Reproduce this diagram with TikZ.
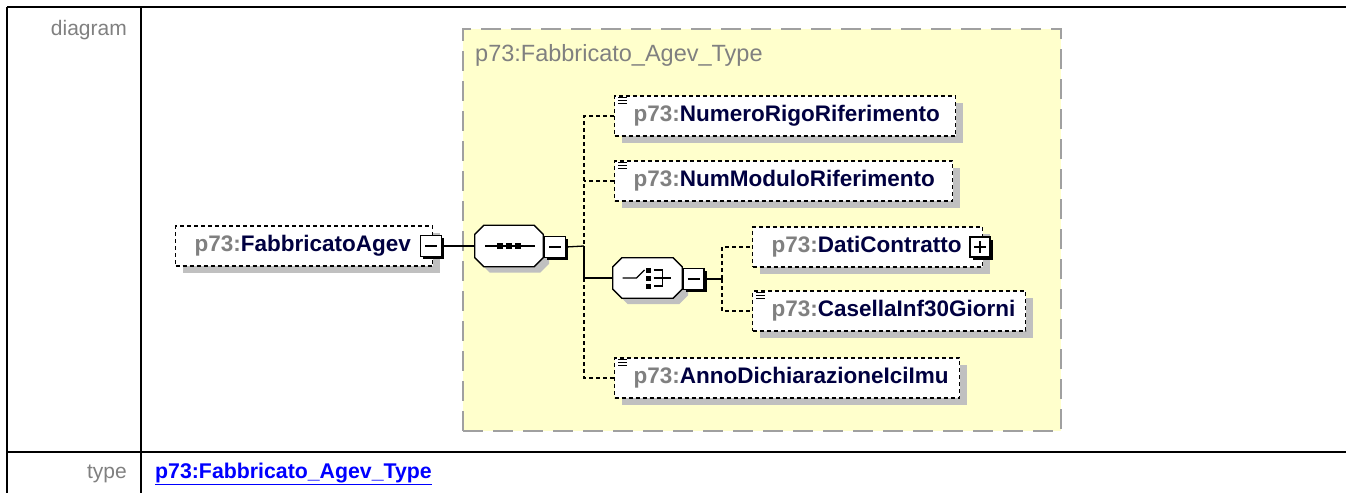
\documentclass[tikz,border=0pt]{standalone}
\usepackage{fontspec}
\setmainfont{Liberation Sans}
\usetikzlibrary{shadows}
\definecolor{ybox}{RGB}{255,255,204}
\definecolor{yborder}{RGB}{160,160,160}
\definecolor{lbl}{RGB}{128,128,128}
\definecolor{pfx}{RGB}{128,128,128}
\definecolor{ename}{RGB}{0,0,64}
\definecolor{shd}{RGB}{192,192,192}
\definecolor{linkc}{RGB}{0,0,255}
\newcommand\fsz[1]{\fontsize{#1}{#1}\selectfont}
\newcommand\qn[1]{{\color{pfx}p73:}{\color{ename}#1}}
\tikzset{
  elem/.style={draw=black, dash pattern=on 4pt off 3pt, line width=1.3pt, fill=white,
    minimum height=40pt, inner xsep=19pt, inner ysep=0pt, align=left, anchor=west,
    font=\fsz{22.5}\bfseries,
    drop shadow={shadow xshift=7pt, shadow yshift=-7pt, fill=shd, opacity=1}},
  comp/.style={rectangle, draw=none, inner sep=0pt},
  pmbox/.style={draw=black, line width=1.3pt, fill=white, minimum size=21pt, inner sep=0pt,
    drop shadow={shadow xshift=2.5pt, shadow yshift=-2.5pt, fill=black, opacity=1}},
  minusbox/.style={pmbox, path picture={\draw[line width=1.2pt]
    ([xshift=-6pt]path picture bounding box.center) -- ([xshift=6pt]path picture bounding box.center);}},
  plusbox/.style={pmbox, path picture={\draw[line width=1.2pt]
    ([xshift=-6pt]path picture bounding box.center) -- ([xshift=6pt]path picture bounding box.center)
    ([yshift=-6pt]path picture bounding box.center) -- ([yshift=6pt]path picture bounding box.center);}},
  conn/.style={draw=black, line width=1.3pt},
  opt/.style={draw=black, line width=1.3pt, dash pattern=on 4pt off 3pt},
  tbl/.style={draw=black, line width=2.5pt},
  lab/.style={inner sep=0pt, font=\fsz{21}, text=lbl},
}
\newcommand\octpath[1]{([shift={(9,0)}]#1.north west) -- ([shift={(-9,0)}]#1.north east) -- ([shift={(0,9)}]#1.north east) -- ([shift={(0,-9)}]#1.south east) -- ([shift={(-9,0)}]#1.south east) -- ([shift={(9,0)}]#1.south west) -- ([shift={(0,-9)}]#1.south west) -- ([shift={(0,9)}]#1.north west) -- cycle}
\newcommand\octagon[1]{%
  \fill[shd, transform canvas={shift={(6pt,-6pt)}}] \octpath{#1};
  \filldraw[fill=white, draw=black, line width=1.3pt] \octpath{#1};}
\newcommand\docicon[1]{\foreach \k in {2.5,5.5,8.5}{\draw[line width=1.1pt] ([shift={(4,\k)}]#1.north west) -- ++(9,0);}}
\begin{document}
\begin{tikzpicture}[x=1pt,y=-1pt]
\useasboundingbox (0,0) rectangle (1346,493);
% table
\draw[tbl] (7,7) -- (1346,7);
\draw[tbl] (7,452) -- (1346,452);
\draw[tbl] (7,7) -- (7,493);
\draw[tbl] (141,7) -- (141,493);
\node[lab, anchor=east] (ldiag) at (127,30) {diagram};
\node[lab, anchor=east] (ltype) at (127,474) {type};
\node[inner sep=0pt, anchor=west, font=\fsz{21.3}\bfseries, text=linkc] (llink) at (155,474) {\underline{p73:Fabbricato\_Agev\_Type}};
% complex type box
\node[draw=yborder, dash pattern=on 20pt off 10pt, line width=2pt, fill=ybox,
  minimum width=598pt, minimum height=402pt, anchor=north west, inner sep=0pt] (ctype) at (462,28) {};
\node[lab, anchor=west, font=\fsz{23.5}] (ctitle) at (475,55) {p73:Fabbricato\_Agev\_Type};
% elements
\node[elem, text width=219pt] (fab) at (175,246) {\qn{FabbricatoAgev}};
\node[minusbox] (fabm) at (431,246) {};
\node[comp, minimum width=68pt, minimum height=41pt] (seq) at (509,246) {};
\octagon{seq}
\node[minusbox] (seqm) at (555,247) {};
\begin{scope}[shift={(seq.center)}]
  \draw[line width=1.3pt] (-24,0) -- (26,0);
  \foreach \d in {-9,0,9}{\fill (\d-3,-3) rectangle (\d+3,3);}
\end{scope}
\node[elem, text width=303pt] (numr) at (614,116) {\qn{NumeroRigoRiferimento}};
\node[elem, text width=300pt] (numm) at (614,181) {\qn{NumModuloRiferimento}};
\node[comp, minimum width=69pt, minimum height=40pt] (cho) at (647.5,278) {};
\octagon{cho}
\node[minusbox] (chom) at (693.5,279) {};
\begin{scope}[shift={(cho.center)}]
  \draw[line width=1.3pt] (-25,0) -- (-11,0) -- (-3,-8);
  \foreach \d in {-8,0,8}{\fill (-2,\d-2.5) rectangle (3,\d+2.5);}
  \draw[line width=1.3pt] (6,-8) -- (15,-8) -- (15,8) -- (6,8) (6,0) -- (23,0);
\end{scope}
\node[elem, text width=192pt] (dati) at (752,247) {\qn{DatiContratto}};
\node[plusbox, minimum size=20pt] (datip) at (980,247) {};
\node[elem, text width=235pt] (case) at (752,311) {\qn{CasellaInf30Giorni}};
\node[elem, text width=307pt] (anno) at (614,378) {\qn{AnnoDichiarazioneIciImu}};
\docicon{numr}
\docicon{numm}
\docicon{case}
\docicon{anno}
% connectors
\coordinate (t0) at (584,246);
\coordinate (t1) at (722,279);
\draw[conn] (fabm.east) -- (seq.west);
\draw[conn] (seqm.east) -- (t0);
\draw[opt] (numr.west) -| (t0);
\draw[opt] (numm.west) -- (numm.west -| t0);
\draw[conn] (t0) |- (cho.west);
\draw[opt] (cho.west -| t0) |- (anno.west);
\draw[conn] (chom.east) -- (t1);
\draw[opt] (t1) |- (dati.west);
\draw[opt] (t1) |- (case.west);
\end{tikzpicture}
\end{document}
